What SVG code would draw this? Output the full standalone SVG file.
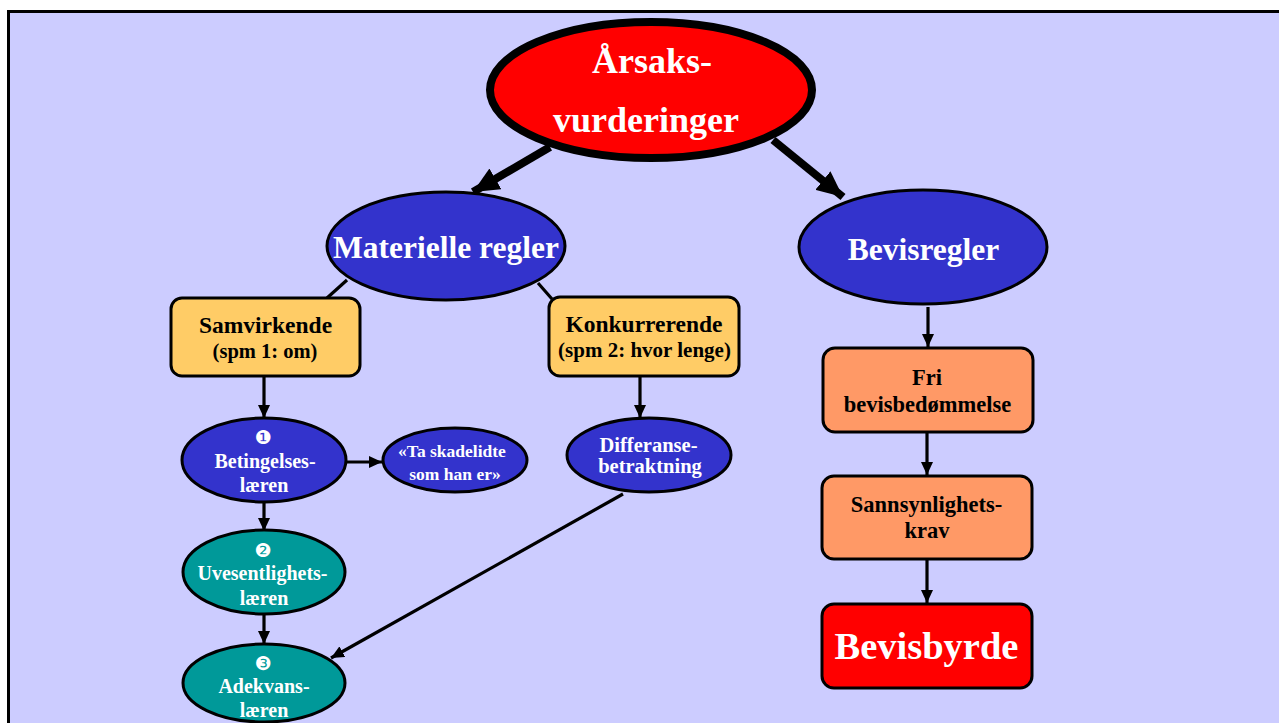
<svg xmlns="http://www.w3.org/2000/svg" width="1279" height="723" viewBox="0 0 1279 723">
<style>
.t{font-family:"Liberation Serif","Times New Roman",serif;font-weight:bold;text-anchor:middle}
.w{fill:#FFFFFF}
.k{fill:#000000}
.n{font-family:"DejaVu Sans",sans-serif;font-size:19px;fill:#FFFFFF;text-anchor:middle}
.blue{fill:#3333CC;stroke:#000;stroke-width:3}
.teal{fill:#009999;stroke:#000;stroke-width:3}
.yel{fill:#FFCC66;stroke:#000;stroke-width:3}
.org{fill:#FF9966;stroke:#000;stroke-width:3}
.red{fill:#FF0000;stroke:#000;stroke-width:3}
.c{stroke:#000;stroke-width:3.2;fill:none}
.cb{stroke:#000;stroke-width:8;fill:none}
</style>
<defs>
<marker id="big" markerUnits="userSpaceOnUse" markerWidth="27" markerHeight="24" refX="26" refY="12" orient="auto">
<path d="M0,0 L26,12 L0,24 z" fill="#000"/>
</marker>
<marker id="sm" markerUnits="userSpaceOnUse" markerWidth="13" markerHeight="12" refX="13" refY="6" orient="auto">
<path d="M0,0 L13,6 L0,12 z" fill="#000"/>
</marker>
</defs>
<rect x="0" y="0" width="1279" height="723" fill="#FFFFFF"/>
<rect x="8.5" y="11.5" width="1290" height="730" fill="#CCCCFF" stroke="#000" stroke-width="3"/>

<g id="connectors">
<line class="cb" x1="550" y1="147" x2="473" y2="192" marker-end="url(#big)"/>
<line class="cb" x1="773" y1="140" x2="843" y2="197" marker-end="url(#big)"/>
<line class="c" x1="347" y1="280" x2="327" y2="298"/>
<line class="c" x1="538" y1="283" x2="552" y2="299"/>
<line class="c" x1="264" y1="377" x2="264" y2="418" marker-end="url(#sm)"/>
<line class="c" x1="347" y1="462" x2="382" y2="462" marker-end="url(#sm)"/>
<line class="c" x1="264" y1="502" x2="264" y2="531" marker-end="url(#sm)"/>
<line class="c" x1="264" y1="615" x2="264" y2="644" marker-end="url(#sm)"/>
<line class="c" x1="640" y1="376" x2="640" y2="418" marker-end="url(#sm)"/>
<line class="c" x1="623" y1="494" x2="331" y2="658" marker-end="url(#sm)"/>
<line class="c" x1="928" y1="307" x2="928" y2="347" marker-end="url(#sm)"/>
<line class="c" x1="927" y1="432" x2="927" y2="475" marker-end="url(#sm)"/>
<line class="c" x1="927" y1="559" x2="927" y2="603" marker-end="url(#sm)"/>
</g>

<g id="arsaksvurderinger">
<ellipse cx="651" cy="90" rx="161" ry="68" fill="#FF0000" stroke="#000" stroke-width="8"/>
<text class="t w" x="652" y="73" font-size="36">Årsaks-</text>
<text class="t w" x="646" y="132" font-size="36">vurderinger</text>
</g>

<g id="materielle">
<ellipse class="blue" cx="446" cy="246" rx="119" ry="54"/>
<text class="t w" x="446" y="258" font-size="31.5">Materielle regler</text>
</g>

<g id="bevisregler">
<ellipse class="blue" cx="923" cy="247" rx="124" ry="57"/>
<text class="t w" x="923.5" y="260" font-size="31.5">Bevisregler</text>
</g>

<g id="samvirkende">
<rect class="yel" x="171" y="298" width="189" height="78" rx="11"/>
<text class="t k" x="265.5" y="333" font-size="23.5">Samvirkende</text>
<text class="t k" x="265" y="358" font-size="20.5">(spm 1: om)</text>
</g>

<g id="konkurrerende">
<rect class="yel" x="549" y="297" width="190" height="79" rx="11"/>
<text class="t k" x="644" y="332" font-size="23.5">Konkurrerende</text>
<text class="t k" x="644.5" y="357" font-size="21">(spm 2: hvor lenge)</text>
</g>

<g id="betingelseslaeren">
<ellipse class="blue" cx="264" cy="460" rx="82" ry="42"/>
<text class="n" x="263" y="444">❶</text>
<text class="t w" x="265" y="468" font-size="20">Betingelses-</text>
<text class="t w" x="264" y="492" font-size="20">læren</text>
</g>

<g id="taskadelidte">
<ellipse class="blue" cx="455" cy="460" rx="72" ry="32"/>
<text class="t w" x="452" y="457" font-size="17.5">«Ta skadelidte</text>
<text class="t w" x="455" y="480" font-size="17.5">som han er»</text>
</g>

<g id="differanse">
<ellipse class="blue" cx="649" cy="455" rx="82" ry="37"/>
<text class="t w" x="648.5" y="452" font-size="20.5">Differanse-</text>
<text class="t w" x="650" y="473" font-size="20.5">betraktning</text>
</g>

<g id="uvesentlighet">
<ellipse class="teal" cx="264" cy="572" rx="81" ry="42"/>
<text class="n" x="263" y="557">❷</text>
<text class="t w" x="262.5" y="580" font-size="20">Uvesentlighets-</text>
<text class="t w" x="264" y="605" font-size="20">læren</text>
</g>

<g id="adekvans">
<ellipse class="teal" cx="264" cy="683" rx="81" ry="39"/>
<text class="n" x="263" y="670">❸</text>
<text class="t w" x="264" y="693" font-size="20">Adekvans-</text>
<text class="t w" x="264" y="717" font-size="20">læren</text>
</g>

<g id="fri">
<rect class="org" x="823" y="348" width="210" height="84" rx="12"/>
<text class="t k" x="927" y="385" font-size="22.5">Fri</text>
<text class="t k" x="927.5" y="412" font-size="22.5">bevisbedømmelse</text>
</g>

<g id="sannsynlighet">
<rect class="org" x="822" y="476" width="210" height="83" rx="12"/>
<text class="t k" x="926.5" y="512" font-size="22.5">Sannsynlighets-</text>
<text class="t k" x="927" y="538" font-size="22.5">krav</text>
</g>

<g id="bevisbyrde">
<rect class="red" x="822" y="604" width="210" height="84" rx="12"/>
<text class="t w" x="926.5" y="659" font-size="38.5">Bevisbyrde</text>
</g>
</svg>
